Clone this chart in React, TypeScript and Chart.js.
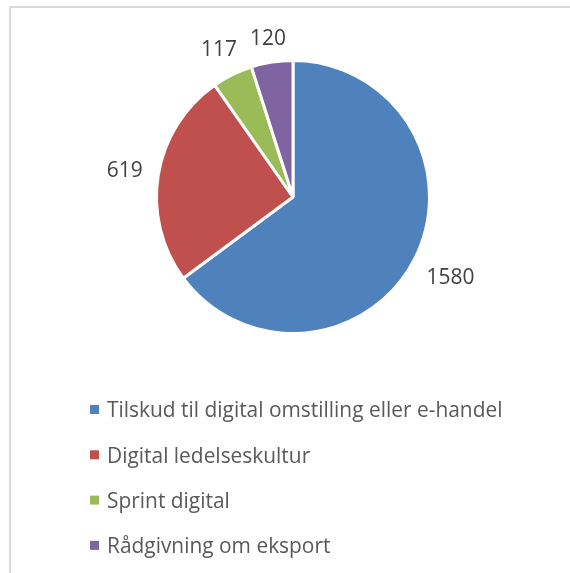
import React, { useEffect, useRef } from "react";
import { Chart, registerables } from "chart.js";

Chart.register(...registerables);

const categories = [
  "Tilskud til digital omstilling eller e-handel",
  "Digital ledelseskultur",
  "Sprint digital",
  "Rådgivning om eksport",
];
const values = [1580, 619, 117, 120];
const colors = ["#4F81BD", "#C0504D", "#9BBB59", "#8064A2"];

const FONT = "'Open Sans', sans-serif";
const SCALE_X = 0.95;
const LABEL_SIZE = 22;
const LEGEND_SIZE = 22;
const LABEL_GAP = 15;

function drawText(
  ctx: CanvasRenderingContext2D,
  text: string,
  x: number,
  y: number,
  align: "left" | "center"
) {
  ctx.save();
  ctx.translate(x, y);
  ctx.scale(SCALE_X, 1);
  ctx.textAlign = align;
  ctx.textBaseline = "alphabetic";
  ctx.fillText(text, 0, 0);
  ctx.restore();
}

export default function App() {
  const ref = useRef<HTMLCanvasElement>(null);

  useEffect(() => {
    if (!ref.current) return;

    const framePlugin = {
      id: "frame",
      beforeDraw(chart: any) {
        const ctx = chart.ctx as CanvasRenderingContext2D;
        ctx.save();
        ctx.fillStyle = "#ffffff";
        ctx.fillRect(0, 0, chart.width, chart.height);
        ctx.strokeStyle = "#d9d9d9";
        ctx.lineWidth = 2;
        ctx.beginPath();
        ctx.moveTo(10, chart.height + 5);
        ctx.lineTo(10, 7);
        ctx.lineTo(chart.width + 5, 7);
        ctx.stroke();
        ctx.restore();
      },
    };

    const labelPlugin = {
      id: "outLabels",
      afterDatasetsDraw(chart: any) {
        const ctx = chart.ctx as CanvasRenderingContext2D;
        const meta = chart.getDatasetMeta(0);
        ctx.save();
        ctx.font = `${LABEL_SIZE}px ${FONT}`;
        ctx.fillStyle = "#404040";
        const capH = LABEL_SIZE * 0.714;
        meta.data.forEach((arc: any, i: number) => {
          const p = arc.getProps(
            ["x", "y", "startAngle", "endAngle", "outerRadius"],
            true
          );
          const mid = (p.startAngle + p.endAngle) / 2;
          const txt = String(chart.data.datasets[0].data[i]);
          const w = ctx.measureText(txt).width * SCALE_X;
          const c = Math.cos(mid);
          const s = Math.sin(mid);
          const d =
            p.outerRadius + LABEL_GAP + (Math.abs(c) * w) / 2 + (Math.abs(s) * capH) / 2;
          const lx = p.x + c * d;
          const ly = p.y + s * d;
          drawText(ctx, txt, lx, ly + capH / 2, "center");
        });
        ctx.restore();
      },
    };

    const legendPlugin = {
      id: "customLegend",
      afterDraw(chart: any) {
        const ctx = chart.ctx as CanvasRenderingContext2D;
        const labels = chart.data.labels as string[];
        const bg = chart.data.datasets[0].backgroundColor as string[];
        const x0 = 90;
        const y0 = 409.5;
        const step = 45.3;
        const capH = LEGEND_SIZE * 0.714;
        ctx.save();
        ctx.font = `${LEGEND_SIZE}px ${FONT}`;
        labels.forEach((lab, i) => {
          const cy = y0 + i * step;
          ctx.fillStyle = bg[i];
          ctx.fillRect(x0, cy - 4.5, 9, 9);
          ctx.fillStyle = "#595959";
          drawText(ctx, lab, x0 + 17, cy + capH / 2, "left");
        });
        ctx.restore();
      },
    };

    const chart = new Chart(ref.current, {
      type: "pie",
      data: {
        labels: categories,
        datasets: [
          {
            data: values,
            backgroundColor: colors,
            borderColor: "#ffffff",
            borderWidth: 3,
          },
        ],
      },
      options: {
        animation: false,
        responsive: false,
        maintainAspectRatio: false,
        devicePixelRatio: 1,
        radius: 136.5,
        layout: { padding: { left: 158, right: 142, top: 62, bottom: 241 } },
        plugins: {
          legend: { display: false },
          tooltip: { enabled: false },
        },
      } as any,
      plugins: [framePlugin, labelPlugin, legendPlugin],
    });

    return () => chart.destroy();
  }, []);

  return (
    <div style={{ position: "fixed", left: 0, top: 0, width: 570, height: 573 }}>
      <canvas ref={ref} width={570} height={573} style={{ width: 570, height: 573 }} />
    </div>
  );
}
